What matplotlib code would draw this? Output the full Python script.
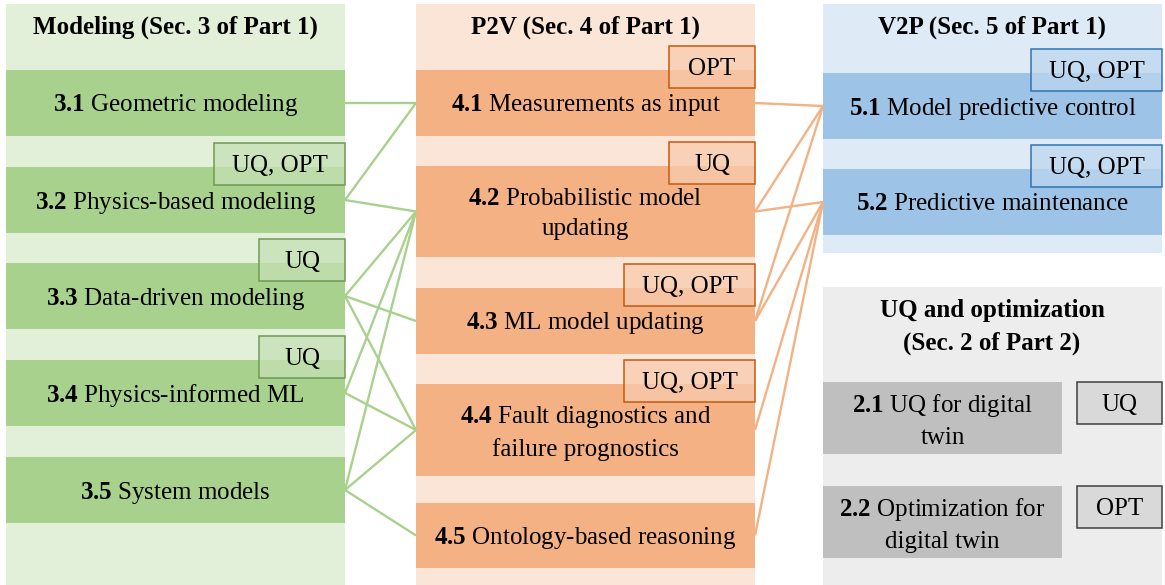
import matplotlib
matplotlib.use('Agg')
import matplotlib.pyplot as plt
from matplotlib.patches import Rectangle

plt.rcParams['font.family'] = 'Liberation Serif'
plt.rcParams['mathtext.fontset'] = 'custom'
plt.rcParams['mathtext.rm'] = 'Liberation Serif'
plt.rcParams['mathtext.bf'] = 'Liberation Serif:bold'

# --- diagram content ---
modeling_title = 'Modeling (Sec. 3 of Part 1)'
modeling_ids = ['3.1', '3.2', '3.3', '3.4', '3.5']
modeling_names = ['Geometric modeling', 'Physics-based modeling', 'Data-driven modeling',
                  'Physics-informed ML', 'System models']
modeling_tags = [None, 'UQ, OPT', 'UQ', 'UQ', None]

p2v_title = 'P2V (Sec. 4 of Part 1)'
p2v_ids = ['4.1', '4.2', '4.3', '4.4', '4.5']
p2v_names = ['Measurements as input', 'Probabilistic model\nupdating', 'ML model updating',
             'Fault diagnostics and\nfailure prognostics', 'Ontology-based reasoning']
p2v_tags = ['OPT', 'UQ', 'UQ, OPT', 'UQ, OPT', None]

v2p_title = 'V2P (Sec. 5 of Part 1)'
v2p_ids = ['5.1', '5.2']
v2p_names = ['Model predictive control', 'Predictive maintenance']
v2p_tags = ['UQ, OPT', 'UQ, OPT']

uqopt_title = 'UQ and optimization\n(Sec. 2 of Part 2)'
uqopt_ids = ['2.1', '2.2']
uqopt_names = ['UQ for digital\ntwin', 'Optimization for\ndigital twin']
uqopt_tags = ['UQ', 'OPT']

# which boxes are linked
modeling_to_p2v = [('3.1', '4.1'), ('3.2', '4.1'), ('3.2', '4.2'), ('3.3', '4.2'),
                   ('3.3', '4.3'), ('3.3', '4.4'), ('3.4', '4.2'), ('3.4', '4.4'),
                   ('3.5', '4.2'), ('3.5', '4.4'), ('3.5', '4.5')]
p2v_to_v2p = [('4.1', '5.1'), ('4.2', '5.1'), ('4.2', '5.2'), ('4.3', '5.1'),
              ('4.3', '5.2'), ('4.4', '5.2'), ('4.5', '5.2')]

# --- layout (pixels, y downwards) ---
FS = 18
LS = 1.45
green = dict(light='#e2f0d9', dark='#a9d18e', tagfill='#c5e0b4', tagedge='#6f9a52', line='#a9d18e')
orange = dict(light='#fbe5d6', dark='#f4b183', tagfill='#f8cbad', tagedge='#c55a11', line='#f4b183')
blue = dict(light='#deebf7', dark='#9dc3e6', tagfill='#bdd7ee', tagedge='#2e75b6')
gray = dict(light='#ededed', dark='#bfbfbf', tagfill='#d9d9d9', tagedge='#404040')

fig = plt.figure(figsize=(11.65, 5.85), dpi=100)
ax = fig.add_axes([0, 0, 1, 1])
ax.set_xlim(0, 1165)
ax.set_ylim(585, 0)
ax.axis('off')


def rect(x0, y0, x1, y1, **kw):
    ax.add_patch(Rectangle((x0, y0), x1 - x0, y1 - y0, **kw))


def label(num, name):
    return r'$\mathbf{%s}$ %s' % (num, name)


def column(x0, x1, py0, py1, title, ids, names, tags, tops, heights, col, title_y=27):
    rect(x0, py0, x1, py1, facecolor=col['light'], edgecolor='none', zorder=0)
    ax.text((x0 + x1) / 2, title_y, title, ha='center', va='center', fontsize=FS,
            fontweight='bold', zorder=5)
    anchors = {}
    for num, name, tag, top, h in zip(ids, names, tags, tops, heights):
        rect(x0, top, x1, top + h, facecolor=col['dark'], edgecolor='none', zorder=1)
        ax.text((x0 + x1) / 2, top + h / 2 + 2.5, label(num, name), ha='center', va='center',
                fontsize=FS, linespacing=LS, zorder=5)
        if tag:
            w = 131 if ',' in tag else 86
            rect(x1 - w, top - 24, x1, top + 18, facecolor=col['tagfill'], alpha=0.75,
                 edgecolor='none', zorder=3)
            rect(x1 - w, top - 24, x1, top + 18, facecolor='none', edgecolor=col['tagedge'],
                 lw=1.1, zorder=4)
            ax.text(x1 - w / 2, top - 1, tag, ha='center', va='center', fontsize=FS, zorder=5)
        anchors[num] = top + h / 2
    return anchors


g_y = column(6, 345, 4, 585, modeling_title, modeling_ids, modeling_names, modeling_tags,
             [70, 167, 263, 360, 457], [66] * 5, green)
o_y = column(416, 755, 4, 585, p2v_title, p2v_ids, p2v_names, p2v_tags,
             [70, 166, 288, 384, 503], [66, 91, 66, 92, 65], orange)
b_y = column(823, 1162, 4, 253, v2p_title, v2p_ids, v2p_names, v2p_tags,
             [73, 169], [66, 66], blue)

# UQ / optimization panel: tags sit beside the boxes
rect(823, 287, 1162, 585, facecolor=gray['light'], edgecolor='none', zorder=0)
ax.text(992, 327, uqopt_title, ha='center', va='center', fontsize=FS, fontweight='bold',
        linespacing=1.55, zorder=5)
for num, name, tag, top in zip(uqopt_ids, uqopt_names, uqopt_tags, [382, 486]):
    rect(823, top, 1062, top + 72, facecolor=gray['dark'], edgecolor='none', zorder=1)
    ax.text(942.5, top + 38.5, label(num, name), ha='center', va='center', fontsize=FS,
            linespacing=1.5, zorder=5)
    rect(1077, top, 1162, top + 42, facecolor=gray['tagfill'], edgecolor=gray['tagedge'],
         lw=1.1, zorder=3)
    ax.text(1119.5, top + 23, tag, ha='center', va='center', fontsize=FS, zorder=5)

# connecting lines
for a, b in modeling_to_p2v:
    ax.plot([345, 416], [g_y[a], o_y[b]], color=green['line'], lw=1.7, zorder=2,
            solid_capstyle='butt')
for a, b in p2v_to_v2p:
    ax.plot([755, 823], [o_y[a], b_y[b]], color=orange['line'], lw=1.7, zorder=2,
            solid_capstyle='butt')

fig.savefig('out.png', dpi=100)
